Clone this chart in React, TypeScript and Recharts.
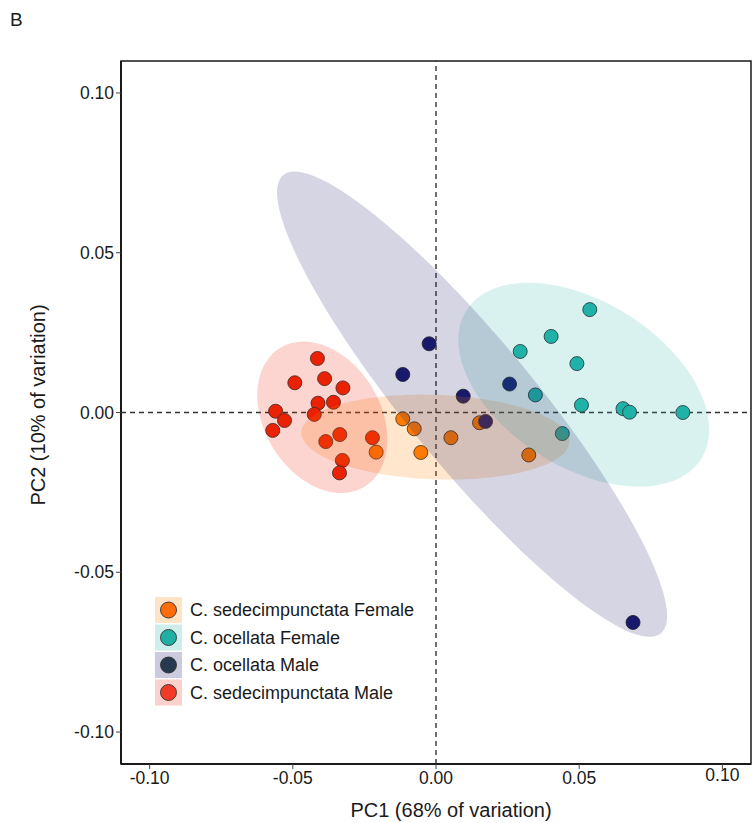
import React from 'react';
import { ScatterChart, Scatter, XAxis, YAxis, ReferenceLine, ReferenceArea } from 'recharts';

// ---- series names and colours ----
const SERIES_NAMES = ['C. sedecimpunctata Female', 'C. ocellata Female', 'C. ocellata Male', 'C. sedecimpunctata Male'];
const POINT_COLORS = ['#ff7800', '#20b2aa', '#191970', '#ea2000'];
const ELLIPSE_COLORS = ['#ff8000', '#1eb0a6', '#141464', '#f02814'];
const ELLIPSE_ALPHA = [0.2, 0.17, 0.18, 0.2];
const LEGEND_CIRCLE_COLORS = ['#ff6c0a', '#1fafa3', '#27394f', '#f23a26'];

// ---- PCA scores (PC1, PC2) ----
const sedFemalePC1 = [-0.0116, -0.0076, 0.0052, -0.0209, -0.0053, 0.0152, 0.0324];
const sedFemalePC2 = [-0.0020, -0.0051, -0.0079, -0.0124, -0.0125, -0.0032, -0.0133];

const ocFemalePC1 = [0.0537, 0.0402, 0.0294, 0.0492, 0.0347, 0.0508, 0.0653, 0.0676, 0.0862, 0.0441];
const ocFemalePC2 = [0.0322, 0.0238, 0.0191, 0.0153, 0.0055, 0.0023, 0.0012, 0.0001, 0.0000, -0.0066];

const ocMalePC1 = [-0.0024, -0.0116, 0.0095, 0.0257, 0.0173, 0.0688];
const ocMalePC2 = [0.0215, 0.0119, 0.0051, 0.0089, -0.0028, -0.0657];

const sedMalePC1 = [-0.0414, -0.0493, -0.0389, -0.0325, -0.0412, -0.0358, -0.0560, -0.0425, -0.0529, -0.0570, -0.0336, -0.0385, -0.0222, -0.0327, -0.0337];
const sedMalePC2 = [0.0169, 0.0093, 0.0106, 0.0077, 0.0029, 0.0032, 0.0004, -0.0006, -0.0025, -0.0056, -0.0069, -0.0091, -0.0079, -0.0150, -0.0189];

// ---- confidence ellipses: centre, half-extent along PC1/PC2, correlation ----
const ellipseCX = [-0.0002, 0.0516, 0.0126, -0.0397];
const ellipseCY = [-0.0077, 0.0087, 0.0026, -0.0015];
const ellipseRX = [0.0468, 0.0438, 0.0681, 0.0227];
const ellipseRY = [0.0133, 0.0319, 0.0728, 0.0237];
const ellipseR = [-0.10, -0.44, -0.91, -0.29];

// ---- axes ----
const AXIS_DOMAIN: [number, number] = [-0.11, 0.11];
const X_TICKS = [-0.1, -0.05, 0, 0.05, 0.1];
const Y_TICKS = [-0.1, -0.05, 0, 0.05, 0.1];
const X_TITLE = 'PC1 (68% of variation)';
const Y_TITLE = 'PC2 (10% of variation)';
const PANEL_LABEL = 'B';

const FONT = '"Liberation Sans", Arial, Helvetica, sans-serif';

const zip = (xs: number[], ys: number[]) => xs.map((x, i) => ({ x, y: ys[i] }));
const POINT_SETS = [
  zip(sedFemalePC1, sedFemalePC2),
  zip(ocFemalePC1, ocFemalePC2),
  zip(ocMalePC1, ocMalePC2),
  zip(sedMalePC1, sedMalePC2),
];

const ellipseOutline = (i: number) => {
  const n = 120;
  const out: { x: number; y: number }[] = [];
  const r = ellipseR[i];
  const s = Math.sqrt(1 - r * r);
  for (let k = 0; k <= n; k++) {
    const t = (2 * Math.PI * k) / n;
    out.push({
      x: ellipseCX[i] + ellipseRX[i] * Math.cos(t),
      y: ellipseCY[i] + ellipseRY[i] * (r * Math.cos(t) + s * Math.sin(t)),
    });
  }
  return out;
};
const ELLIPSE_SETS = [0, 1, 2, 3].map(ellipseOutline);

const fmt = (v: number) => (Math.abs(v) < 1e-9 ? '0.00' : v.toFixed(2));

const XTick = (props: any) => {
  const { x, y, payload } = props;
  const v = payload.value as number;
  const lift = v > 0.09 ? -3 : 0;
  return (
    <text x={x} y={y + lift} dy="0.75em" textAnchor="middle" fontSize={17.5} fontFamily={FONT} fill="#1a1a1a">
      {fmt(v)}
    </text>
  );
};

const makePoint = (color: string) => (props: any) => (
  <circle cx={props.cx} cy={props.cy} r={7} fill={color} stroke="#2a2a2a" strokeWidth={0.9} />
);

const makeEllipse = (color: string, alpha: number) => (props: any) => {
  const pts = (props.points || []) as { x: number; y: number }[];
  if (!pts.length) return <g />;
  const d = pts.map((p, i) => `${i === 0 ? 'M' : 'L'}${p.x},${p.y}`).join(' ') + ' Z';
  return <path d={d} fill={color} fillOpacity={alpha} stroke="none" />;
};

const Hidden = () => <g />;

export default function App() {
  const legendX = 155;
  const legendY = 597;
  const rowH = 27.5;
  return (
    <div style={{ position: 'absolute', left: 0, top: 0, width: 752, height: 823, background: '#fff' }}>
      <ScatterChart width={752} height={823} margin={{ top: 61, right: 1, bottom: 0, left: 0 }}>
        <XAxis
          type="number"
          dataKey="x"
          domain={AXIS_DOMAIN}
          ticks={X_TICKS}
          tickFormatter={fmt}
          allowDataOverflow
          height={59}
          tickSize={5}
          axisLine={{ stroke: '#1a1a1a', strokeWidth: 2 }}
          tickLine={{ stroke: '#444' }}
          tick={<XTick />}
        />
        <YAxis
          type="number"
          dataKey="y"
          domain={AXIS_DOMAIN}
          ticks={Y_TICKS}
          tickFormatter={fmt}
          allowDataOverflow
          width={121}
          tickSize={5}
          axisLine={{ stroke: '#1a1a1a', strokeWidth: 2 }}
          tickLine={{ stroke: '#444' }}
          tick={{ fill: '#1a1a1a', fontSize: 17.5, fontFamily: FONT }}
        />
        {POINT_SETS.map((pts, i) => (
          <Scatter
            key={'pts' + i}
            name={SERIES_NAMES[i]}
            data={pts}
            shape={makePoint(POINT_COLORS[i])}
            isAnimationActive={false}
          />
        ))}
        {ELLIPSE_SETS.map((pts, i) => (
          <Scatter
            key={'ell' + i}
            data={pts}
            shape={Hidden}
            line={makeEllipse(ELLIPSE_COLORS[i], ELLIPSE_ALPHA[i])}
            lineType="joint"
            isAnimationActive={false}
          />
        ))}
        <ReferenceLine x={0} stroke="#333" strokeDasharray="5 4" strokeWidth={1.4} />
        <ReferenceLine y={0} stroke="#333" strokeDasharray="5 4" strokeWidth={1.4} />
        <ReferenceArea
          x1={AXIS_DOMAIN[0]}
          x2={AXIS_DOMAIN[1]}
          y1={AXIS_DOMAIN[0]}
          y2={AXIS_DOMAIN[1]}
          fill="none"
          fillOpacity={0}
          stroke="#1a1a1a"
          strokeWidth={1.5}
          ifOverflow="visible"
        />
        <text x={10} y={26} fontSize={19} fontFamily={FONT} fill="#1a1a1a">{PANEL_LABEL}</text>
        <text x={451} y={817} fontSize={20} fontFamily={FONT} fill="#1a1a1a" textAnchor="middle">{X_TITLE}</text>
        <text
          x={45}
          y={405}
          fontSize={20}
          fontFamily={FONT}
          fill="#1a1a1a"
          textAnchor="middle"
          transform="rotate(-90 45 405)"
        >
          {Y_TITLE}
        </text>
        <g>
          {SERIES_NAMES.map((name, i) => (
            <g key={'leg' + i}>
              <rect
                x={legendX}
                y={legendY + i * rowH}
                width={27}
                height={26}
                fill={ELLIPSE_COLORS[i]}
                fillOpacity={0.22}
              />
              <circle
                cx={legendX + 13.5}
                cy={legendY + i * rowH + 13}
                r={8}
                fill={LEGEND_CIRCLE_COLORS[i]}
                stroke="#333"
                strokeWidth={0.9}
              />
              <text
                x={legendX + 35}
                y={legendY + i * rowH + 19}
                fontSize={18}
                fontFamily={FONT}
                fill="#1a1a1a"
              >
                {name}
              </text>
            </g>
          ))}
        </g>
      </ScatterChart>
    </div>
  );
}
